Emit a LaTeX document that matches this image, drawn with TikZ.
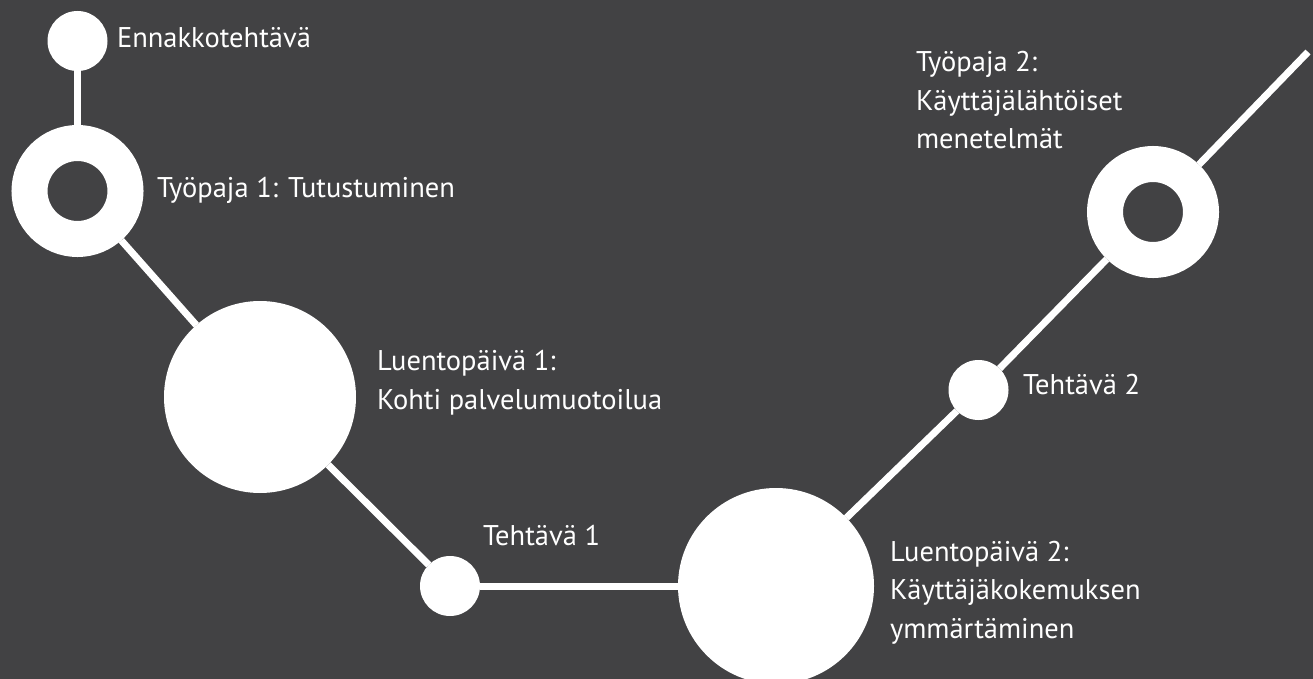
\documentclass[tikz,border=0pt]{standalone}
\usepackage{fontspec}
\setmainfont{PT Sans}
\usepackage{tikz}
\usetikzlibrary{positioning}
\definecolor{slate}{RGB}{66,66,68}
\tikzset{
	route map/.style={
		x=1pt, y=-1pt,
		every node/.style={inner sep=0pt, outer sep=0pt},
		rail/.style={draw=white, line width=7pt},
		stop label/.style={
			text=white,
			font=\fontsize{28.5}{38.5}\selectfont,
			align=left, anchor=base west}
		},
	small stop/.style={circle, fill=white, minimum size=60pt},
	big stop/.style={circle, fill=white, minimum size=#1},
	ring stop/.style={circle, draw=white, fill=slate, line width=36pt,
		minimum size=96pt, outer sep=18pt}
}

\begin{document}
\begin{tikzpicture}[route map]
   \path[use as bounding box, clip] (0,0) rectangle (1313,679);
   \fill[slate] (0,0) rectangle (1313,679);
   % stops along the route
   \node[small stop] (pre) at (77.5,41) {};
   \node[ring stop] (ws1) at (77.5,191) {};
   \node[big stop=192pt] (lec1) at (260,397) {};
   \node[small stop] (task1) at (450,586) {};
   \node[big stop=196pt] (lec2) at (776,586) {};
   \node[small stop] (task2) at (978.5,390) {};
   \node[ring stop] (ws2) at (1153,212) {};
   \coordinate (exit) at (1308,52);
   \foreach \a/\b in {pre/ws1, ws1/lec1, lec1/task1, task1/lec2, lec2/task2, task2/ws2, ws2/exit}
      \draw[rail] (\a) -- (\b);
   % labels (base = last line)
   \node[stop label] (pre name) at (117,47.5) {Ennakkotehtävä};
   \node[stop label] (ws1 name) at (157,197) {Työpaja 1: Tutustuminen};
   \node[stop label] (lec1 name) at (377,409) {Luentopäivä 1:\\Kohti palvelumuotoilua};
   \node[stop label] (task1 name) at (483,545) {Tehtävä 1};
   \node[stop label] (lec2 name) at (890,638) {Luentopäivä 2:\\Käyttäjäkokemuksen\\ymmärtäminen};
   \node[stop label] (task2 name) at (1023,394) {Tehtävä 2};
   \node[stop label] (ws2 name) at (916,149) {Työpaja 2:\\Käyttäjälähtöiset\\menetelmät};
\end{tikzpicture}
\end{document}
